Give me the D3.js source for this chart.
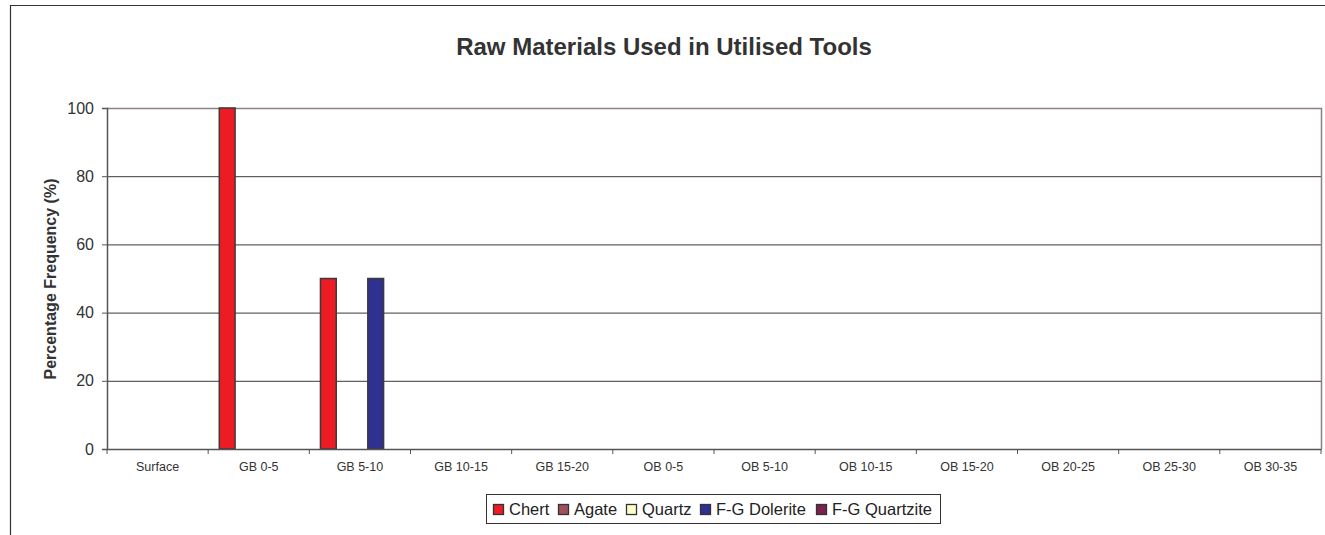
<!DOCTYPE html>
<html><head><meta charset="utf-8">
<script src="https://cdn.jsdelivr.net/npm/d3@7"></script>
<style>body{margin:0;background:#fff}svg{display:block}text{font-family:"Liberation Sans",Arial,sans-serif}</style>
</head><body><svg id="c" width="1325" height="535"></svg>
<script>
const categories = ["Surface","GB 0-5","GB 5-10","GB 10-15","GB 15-20","OB 0-5","OB 5-10","OB 10-15","OB 15-20","OB 20-25","OB 25-30","OB 30-35"];
const seriesNames = ["Chert","Agate","Quartz","F-G Dolerite","F-G Quartzite"];
const chert     = [0,100,50,0,0,0,0,0,0,0,0,0];
const agate     = [0,0,0,0,0,0,0,0,0,0,0,0];
const quartz    = [0,0,0,0,0,0,0,0,0,0,0,0];
const dolerite  = [0,0,50,0,0,0,0,0,0,0,0,0];
const quartzite = [0,0,0,0,0,0,0,0,0,0,0,0];
const yTicks = [0,20,40,60,80,100];
const colors = ["#ed1c24","#a0505a","#ffffcc","#2e3192","#7b2150"];
const seriesValues = [chert,agate,quartz,dolerite,quartzite];

const svg = d3.select("#c");
const L=107,R=1321,T=108,B=449;
// outer frame
svg.append("path").attr("d","M10.5,540 V5.5 H1330").attr("fill","none").attr("stroke","#333").attr("stroke-width",1.2);

const x = d3.scaleBand().domain(categories).range([L,R]).paddingInner(0.22).paddingOuter(0.11);
const x0 = d3.scaleBand().domain(categories).range([L,R]);
const xs = d3.scaleBand().domain(seriesNames).range([0,x.bandwidth()]);
const y = d3.scaleLinear().domain([0,100]).range([B,T]);

// gridlines
svg.append("g").selectAll("line").data(yTicks.filter(d=>d>0)).join("line")
 .attr("x1",L).attr("x2",R).attr("y1",d=>y(d)+0.5).attr("y2",d=>y(d)+0.5)
 .attr("stroke","#3a3a3a").attr("stroke-width",1);
// plot border top/right
svg.append("path").attr("d",`M${L},${T+0.5} H${R+0.5} V${B}`).attr("fill","none").attr("stroke","#8c8080").attr("stroke-width",1.5);

// bars
const data=[];
categories.forEach((c,i)=>seriesNames.forEach((s,j)=>{ if(seriesValues[j][i]>0) data.push({c,s,v:seriesValues[j][i],j}); }));
svg.append("g").selectAll("rect").data(data).join("rect")
 .attr("x",d=>x(d.c)+xs(d.s)).attr("width",xs.bandwidth())
 .attr("y",d=>y(d.v)).attr("height",d=>y(0)-y(d.v))
 .attr("fill",d=>colors[d.j]).attr("stroke","#3a3a3a").attr("stroke-width",1.5);

// y axis
const ya = svg.append("g").attr("transform",`translate(${L},0)`)
 .call(d3.axisLeft(y).tickValues(yTicks).tickSize(5).tickPadding(8));
ya.select(".domain").attr("stroke","#555").attr("stroke-width",1.5);
ya.selectAll(".tick line").attr("stroke","#555");
ya.selectAll("text").attr("font-size",16).attr("fill","#333").attr("font-family","Liberation Sans, Arial, sans-serif");

// x axis
const xa = svg.append("g").attr("transform",`translate(0,${B})`)
 .call(d3.axisBottom(x0).tickSize(0).tickPadding(13));
xa.select(".domain").attr("stroke","#555").attr("stroke-width",1.5);
xa.selectAll("text").attr("font-size",12.5).attr("fill","#333").attr("font-family","Liberation Sans, Arial, sans-serif");
svg.append("g").selectAll("line").data(d3.range(categories.length+1)).join("line")
 .attr("x1",i=>L+i*x0.step()).attr("x2",i=>L+i*x0.step()).attr("y1",B).attr("y2",B+5).attr("stroke","#555");

// title
svg.append("text").attr("x",664).attr("y",55).attr("text-anchor","middle").attr("font-size",24).attr("font-weight","bold").attr("fill","#333").text("Raw Materials Used in Utilised Tools");
// y label
svg.append("text").attr("transform","translate(56,279) rotate(-90)").attr("text-anchor","middle").attr("font-size",16).attr("font-weight","bold").attr("fill","#333").text("Percentage Frequency (%)");

// legend
const lg = svg.append("g");
lg.append("rect").attr("x",486.5).attr("y",494.5).attr("width",454).attr("height",29).attr("fill","#fff").attr("stroke","#333");
const legX=[493,558,626,700,816];
seriesNames.forEach((s,i)=>{
  const g=lg.append("g").attr("transform",`translate(${legX[i]},0)`);
  g.append("rect").attr("x",0.5).attr("y",504.5).attr("width",10).attr("height",10).attr("fill",colors[i]).attr("stroke","#333").attr("stroke-width",1.3);
  g.append("text").attr("x",16).attr("y",515).attr("font-size",16.5).attr("fill","#222").text(s);
});
</script></body></html>
